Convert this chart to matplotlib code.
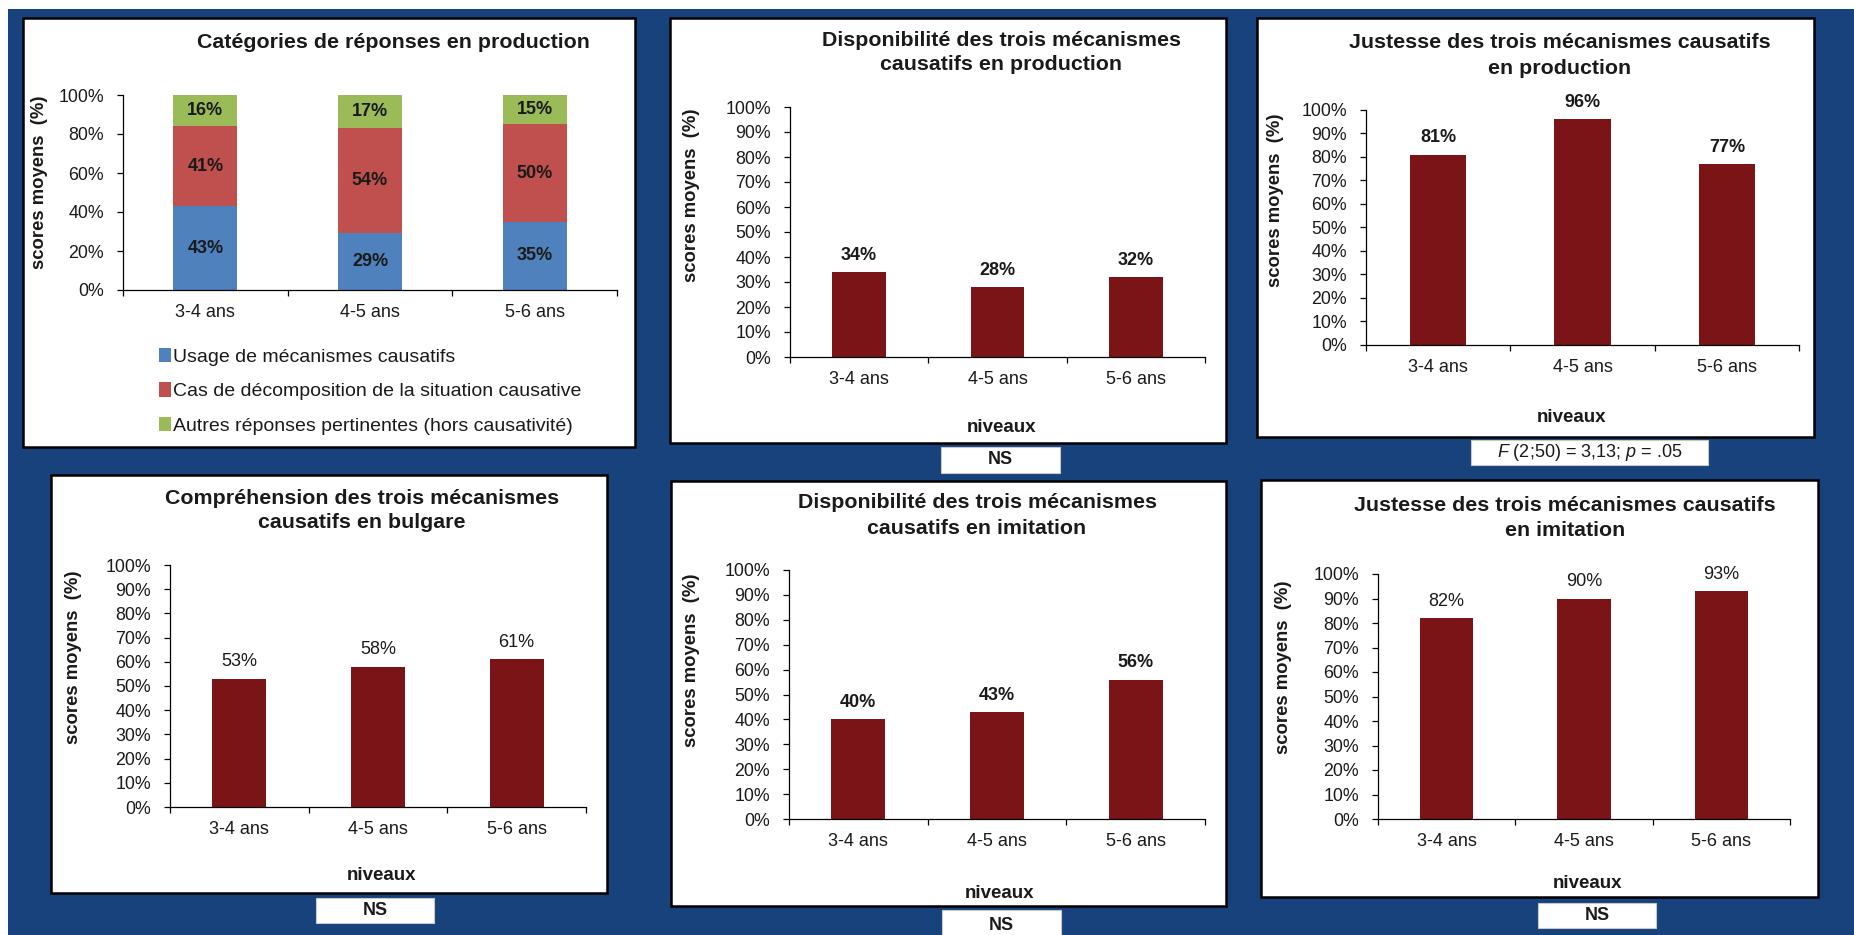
import matplotlib
matplotlib.use("Agg")
import matplotlib.pyplot as plt
from matplotlib.patches import Rectangle
import numpy as np

plt.rcParams.update({
    "font.family": "Liberation Sans",
    "mathtext.fontset": "custom",
    "mathtext.rm": "Liberation Sans",
    "mathtext.it": "Liberation Sans:italic",
    "axes.linewidth": 0.9,
})

# ---- data ----
AGES = ["3-4 ans", "4-5 ans", "5-6 ans"]

USAGE = [43, 29, 35]
DECOMP = [41, 54, 50]
AUTRES = [16, 17, 15]
LEGEND_LABELS = [
    "Usage de mécanismes causatifs",
    "Cas de décomposition de la situation causative",
    "Autres réponses pertinentes (hors causativité)",
]

DISPO_PROD = [34, 28, 32]
JUSTESSE_PROD = [81, 96, 77]
COMPREHENSION = [53, 58, 61]
DISPO_IMIT = [40, 43, 56]
JUSTESSE_IMIT = [82, 90, 93]

F_NOTE = r"$\mathit{F}$ (2;50) = 3,13; $\mathit{p}$ = .05"

BLUE_BG = "#18427c"
BAR_RED = "#7b1416"
STACK_COLORS = ["#4f81bd", "#c0504d", "#9bbb59"]
TXT = "#1a1a1a"

W, H = 1854, 935
fig = plt.figure(figsize=(W / 100, H / 100), dpi=100)


def box(x0, y0, x1, y1):
    return [x0 / W, 1 - y1 / H, (x1 - x0) / W, (y1 - y0) / H]


def rect(x0, y0, x1, y1, **kw):
    fig.add_artist(Rectangle((x0 / W, 1 - y1 / H), (x1 - x0) / W, (y1 - y0) / H,
                             transform=fig.transFigure, **kw))


def ftext(x, y, s, **kw):
    fig.text(x / W, 1 - y / H, s, **kw)


def style_axes(ax, step):
    ax.patch.set_visible(False)
    ax.spines["top"].set_visible(False)
    ax.spines["right"].set_visible(False)
    ax.set_xlim(-0.5, 2.5)
    ax.set_ylim(0, 100)
    ticks = np.arange(0, 101, step)
    ax.set_yticks(ticks)
    ax.set_yticklabels([f"{t}%" for t in ticks])
    ax.set_xticks(range(len(AGES)))
    ax.set_xticklabels(AGES)
    ax.set_xticks([-0.5, 0.5, 1.5, 2.5], minor=True)
    ax.tick_params(axis="y", direction="out", length=4.3, width=0.9,
                   pad=9.4, labelsize=12.8, labelcolor=TXT)
    ax.tick_params(axis="x", which="major", length=0, pad=10, labelsize=13,
                   labelcolor=TXT)
    ax.tick_params(axis="x", which="minor", direction="out", length=4.3, width=0.9)


def panel_frame(x0, y0, x1, y1):
    rect(x0, y0, x1, y1, facecolor="white", edgecolor="black", lw=1.8, zorder=-1)


def ylabel(x, y):
    ftext(x, y, "scores moyens  (%)", rotation=90, ha="center", va="center",
          fontsize=13.3, fontweight="bold", color=TXT)


def note_box(x0, y0, x1, y1, s, bold):
    rect(x0, y0, x1, y1, facecolor="white", edgecolor="#c8c8c8", lw=0.8, zorder=-1)
    ftext((x0 + x1) / 2, (y0 + y1) / 2 if y1 <= H else 925, s, ha="center",
          va="center", fontsize=13, fontweight="bold" if bold else "normal", color=TXT)


# background
rect(8, 9, W, H, facecolor=BLUE_BG, edgecolor="none", zorder=-2)

# ---- panel 1: stacked categories ----
panel_frame(23, 18, 635, 447)
ax = fig.add_axes(box(123, 95, 617, 290))
style_axes(ax, 20)
bottom = np.zeros(3)
handles = []
for vals, col in zip([USAGE, DECOMP, AUTRES], STACK_COLORS):
    bars = ax.bar(range(3), vals, width=0.39, bottom=bottom, color=col, zorder=2)
    ax.bar_label(bars, labels=[f"{v}%" for v in vals], label_type="center",
                 fontsize=13, fontweight="bold", color=TXT)
    bottom += np.array(vals)
    handles.append(bars)
ax.legend(handles, LEGEND_LABELS, loc="upper left",
          bbox_to_anchor=(159 / W, 1 - 348 / H), bbox_transform=fig.transFigure,
          frameon=False, fontsize=14, handlelength=0.6, handleheight=0.75,
          handletextpad=0.1, labelspacing=0.85, borderpad=0, borderaxespad=0,
          labelcolor=TXT)
ftext(393, 43, "Catégories de réponses en production", ha="center", va="center",
      fontsize=15.4, fontweight="bold", color=TXT)
ylabel(40, 182)

# ---- simple bar panels ----
panels = [
    dict(values=DISPO_PROD, title=("Disponibilité des trois mécanismes", "causatifs en production"),
         frame=(670, 18, 1226, 443), axis=(790, 107, 1205, 357), title_xy=(1001, 40),
         ylab=(691, 195), niv=(1002, 428), note=(941, 447, 1060, 473, "NS", True), bold=True),
    dict(values=JUSTESSE_PROD, title=("Justesse des trois mécanismes causatifs", "en production"),
         frame=(1257, 18, 1814, 437), axis=(1366, 110, 1799, 345), title_xy=(1560, 43),
         ylab=(1276, 200), niv=(1572, 418), note=(1471, 440, 1708, 465, F_NOTE, False), bold=True),
    dict(values=COMPREHENSION, title=("Compréhension des trois mécanismes", "causatifs en bulgare"),
         frame=(51, 475, 607, 893), axis=(170, 565, 586, 807), title_xy=(362, 498),
         ylab=(74, 657), niv=(381, 875), note=(316, 898, 434, 923, "NS", True), bold=False),
    dict(values=DISPO_IMIT, title=("Disponibilité des trois mécanismes", "causatifs en imitation"),
         frame=(671, 481, 1226, 906), axis=(789, 570, 1205, 819), title_xy=(977, 503),
         ylab=(691, 660), niv=(999, 893), note=(942, 910, 1061, 945, "NS", True), bold=True),
    dict(values=JUSTESSE_IMIT, title=("Justesse des trois mécanismes causatifs", "en imitation"),
         frame=(1261, 480, 1818, 897), axis=(1378, 574, 1790, 819), title_xy=(1565, 505),
         ylab=(1283, 667), niv=(1587, 883), note=(1538, 903, 1656, 928, "NS", True), bold=False),
]

for p in panels:
    panel_frame(*p["frame"])
    ax = fig.add_axes(box(*p["axis"]))
    style_axes(ax, 10)
    bars = ax.bar(range(3), p["values"], width=0.39, color=BAR_RED, zorder=2)
    ax.bar_label(bars, labels=[f"{v}%" for v in p["values"]], padding=6, fontsize=13,
                 fontweight="bold" if p["bold"] else "normal", color=TXT)
    tx, ty = p["title_xy"]
    for i, line in enumerate(p["title"]):
        ftext(tx, ty + 25 * i, line, ha="center", va="center", fontsize=15.4,
              fontweight="bold", color=TXT)
    ylabel(*p["ylab"])
    ftext(*p["niv"], "niveaux", ha="center", va="center", fontsize=13.5,
          fontweight="bold", color=TXT)
    note_box(*p["note"])

fig.savefig("out.png", dpi=100)
